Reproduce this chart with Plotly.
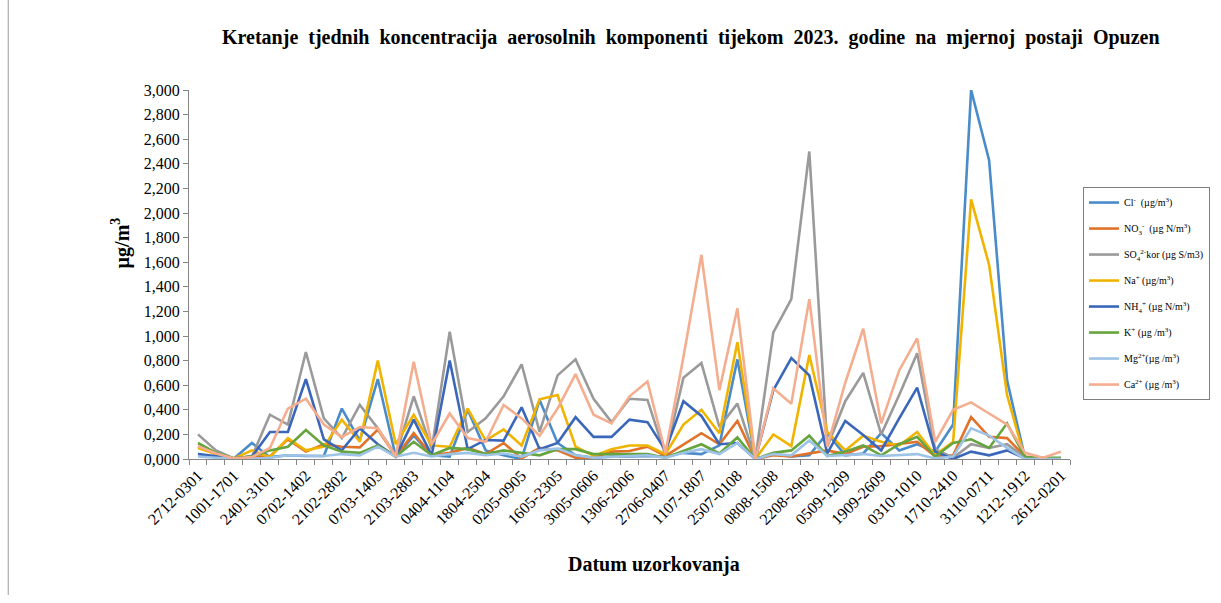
import plotly.graph_objects as go

# Weekly sampling periods (ddmm-ddmm), 2023, Opuzen station
weeks = [
    "2712-0301", "0301-1001", "1001-1701", "1701-2401", "2401-3101", "3101-0702",
    "0702-1402", "1402-2102", "2102-2802", "2802-0703", "0703-1403", "1403-2103",
    "2103-2803", "2803-0404", "0404-1104", "1104-1804", "1804-2504", "2504-0205",
    "0205-0905", "0905-1605", "1605-2305", "2305-3005", "3005-0606", "0606-1306",
    "1306-2006", "2006-2706", "2706-0407", "0407-1107", "1107-1807", "1807-2507",
    "2507-0108", "0108-0808", "0808-1508", "1508-2208", "2208-2908", "2908-0509",
    "0509-1209", "1209-1909", "1909-2609", "2609-0310", "0310-1010", "1010-1710",
    "1710-2410", "2410-3110", "3110-0711", "0711-1411", "1212-1912", "1912-2612",
    "2612-0201",
]

cl = [0.04, 0.015, 0.005, 0.13, 0.015, 0.03, 0.025, 0.025, 0.41, 0.15,
      0.65, 0.02, 0.19, 0.03, 0.02, 0.40, 0.07, 0.03, 0.0, 0.48,
      0.13, 0.03, 0.01, 0.02, 0.02, 0.025, 0.02, 0.05, 0.04, 0.11,
      0.81, 0.0, 0.04, 0.02, 0.03, 0.21, 0.03, 0.045, 0.21, 0.07,
      0.12, 0.06, 0.28, 3.0, 2.43, 0.64, 0.005, 0.0, 0.0]

no3 = [0.10, 0.04, 0.005, 0.02, 0.02, 0.16, 0.06, 0.12, 0.10, 0.095,
       0.24, 0.02, 0.21, 0.03, 0.05, 0.09, 0.04, 0.13, 0.005, 0.09,
       0.07, 0.01, 0.01, 0.06, 0.065, 0.10, 0.025, 0.12, 0.21, 0.12,
       0.31, 0.0, 0.03, 0.02, 0.045, 0.07, 0.04, 0.10, 0.105, 0.12,
       0.14, 0.02, 0.03, 0.34, 0.18, 0.17, 0.02, 0.0, 0.0]

so4 = [0.20, 0.07, 0.005, 0.02, 0.36, 0.28, 0.87, 0.33, 0.17, 0.44,
       0.25, 0.03, 0.51, 0.08, 1.035, 0.22, 0.33, 0.51, 0.77, 0.22,
       0.68, 0.81, 0.49, 0.30, 0.49, 0.48, 0.03, 0.66, 0.78, 0.26,
       0.45, 0.0, 1.03, 1.30, 2.50, 0.10, 0.47, 0.70, 0.20, 0.52,
       0.86, 0.08, 0.01, 0.12, 0.09, 0.12, 0.01, 0.005, 0.005]

na = [0.09, 0.04, 0.005, 0.07, 0.015, 0.17, 0.07, 0.10, 0.32, 0.14,
      0.80, 0.12, 0.36, 0.11, 0.10, 0.41, 0.15, 0.24, 0.11, 0.485,
      0.52, 0.10, 0.025, 0.08, 0.11, 0.11, 0.04, 0.28, 0.40, 0.21,
      0.95, 0.0, 0.20, 0.105, 0.845, 0.22, 0.07, 0.19, 0.14, 0.11,
      0.22, 0.03, 0.14, 2.11, 1.58, 0.52, 0.0, 0.0, 0.0]

nh4 = [0.04, 0.02, 0.005, 0.02, 0.22, 0.22, 0.65, 0.16, 0.07, 0.25,
       0.12, 0.02, 0.32, 0.03, 0.80, 0.08, 0.155, 0.15, 0.42, 0.08,
       0.13, 0.34, 0.18, 0.18, 0.32, 0.30, 0.07, 0.47, 0.35, 0.12,
       0.13, 0.0, 0.56, 0.82, 0.68, 0.045, 0.31, 0.195, 0.07, 0.33,
       0.58, 0.06, 0.0, 0.06, 0.03, 0.07, 0.005, 0.0, 0.0]

k = [0.13, 0.05, 0.005, 0.02, 0.07, 0.10, 0.235, 0.11, 0.06, 0.05,
     0.11, 0.02, 0.14, 0.03, 0.09, 0.08, 0.04, 0.07, 0.05, 0.03,
     0.08, 0.08, 0.04, 0.04, 0.04, 0.04, 0.01, 0.065, 0.12, 0.045,
     0.175, 0.0, 0.05, 0.07, 0.19, 0.025, 0.06, 0.11, 0.03, 0.12,
     0.18, 0.02, 0.13, 0.16, 0.09, 0.29, 0.015, 0.01, 0.01]

mg = [0.02, 0.01, 0.0, 0.0, 0.01, 0.03, 0.025, 0.025, 0.04, 0.03,
      0.10, 0.02, 0.05, 0.02, 0.04, 0.05, 0.03, 0.045, 0.02, 0.07,
      0.085, 0.03, 0.01, 0.02, 0.025, 0.03, 0.01, 0.05, 0.08, 0.04,
      0.13, 0.0, 0.04, 0.03, 0.15, 0.025, 0.03, 0.04, 0.025, 0.03,
      0.04, 0.005, 0.02, 0.25, 0.19, 0.09, 0.0, 0.0, 0.0]

ca = [0.105, 0.045, 0.005, 0.015, 0.09, 0.41, 0.49, 0.28, 0.18, 0.26,
      0.25, 0.02, 0.79, 0.12, 0.37, 0.17, 0.14, 0.44, 0.33, 0.19,
      0.41, 0.69, 0.36, 0.29, 0.51, 0.63, 0.05, 0.83, 1.66, 0.56,
      1.225, 0.0, 0.575, 0.45, 1.30, 0.10, 0.62, 1.06, 0.29, 0.72,
      0.98, 0.14, 0.40, 0.46, 0.37, 0.28, 0.05, 0.01, 0.06]

series = [
    ("Cl<sup>-</sup>  (µg/m<sup>3</sup>)", cl, "#4A8BC9"),
    ("NO<sub>3</sub><sup>-</sup>  (µg N/m<sup>3</sup>)", no3, "#E07329"),
    ("SO<sub>4</sub><sup>2-</sup>kor (µg S/m3)", so4, "#9A9A9A"),
    ("Na<sup>+</sup> (µg/m<sup>3</sup>)", na, "#F0B400"),
    ("NH<sub>4</sub><sup>+</sup> (µg N/m<sup>3</sup>)", nh4, "#3B67BA"),
    ("K<sup>+</sup> (µg /m<sup>3</sup>)", k, "#66A43E"),
    ("Mg<sup>2+</sup>(µg /m<sup>3</sup>)", mg, "#9DC3E6"),
    ("Ca<sup>2+</sup> (µg /m<sup>3</sup>)", ca, "#F4AE8F"),
]

FONT = "Liberation Serif"
xpos = list(range(len(weeks)))

fig = go.Figure()
for i, (name, vals, color) in enumerate(series):
    fig.add_trace(go.Scatter(
        x=xpos, y=vals, mode="lines", name=name,
        legendgroup=f"g{i}",
        line=dict(color=color, width=2.6),
    ))

fig.update_layout(
    width=1221, height=603,
    margin=dict(l=189, r=150, t=90, b=144),
    paper_bgcolor="white", plot_bgcolor="white",
    separators=",.",
    font=dict(family=FONT, color="black"),
    showlegend=True,
    legend=dict(
        x=1.0136, xanchor="left", y=0.737, yanchor="top",
        bordercolor="#7F7F7F", borderwidth=1,
        font=dict(family=FONT, size=10, color="black"),
        tracegroupgap=7,
    ),
    xaxis=dict(
        range=[-0.5, len(weeks) - 0.5],
        tickmode="array",
        tickvals=xpos[::2],
        ticktext=weeks[::2],
        tickangle=-45,
        ticks="",
        tickfont=dict(family=FONT, size=16, color="black"),
        showline=True, linecolor="#868686", linewidth=1,
        showgrid=False, zeroline=False,
        minor=dict(ticks="outside", tick0=-0.5, dtick=1, ticklen=5,
                   tickcolor="#868686", showgrid=False),
    ),
    yaxis=dict(
        range=[0, 3.0],
        tickmode="linear", tick0=0, dtick=0.2,
        tickformat=".3f",
        ticks="outside", ticklen=5, tickcolor="#868686",
        tickfont=dict(family=FONT, size=16, color="black"),
        showline=True, linecolor="#868686", linewidth=1,
        showgrid=False, zeroline=False,
    ),
)

title_words = ("Kretanje tjednih koncentracija aerosolnih komponenti tijekom "
               "2023. godine na mjernoj postaji Opuzen").split(" ")
fig.add_annotation(
    text="<b>" + " \u00a0".join(title_words) + "</b>",
    xref="paper", yref="paper", x=0.570, y=1.141,
    xanchor="center", yanchor="middle", showarrow=False,
    font=dict(family=FONT, size=20, color="black"),
)
fig.add_annotation(
    text="<b>Datum uzorkovanja</b>",
    xref="paper", yref="paper", x=0.528, y=-0.287,
    xanchor="center", yanchor="middle", showarrow=False,
    font=dict(family=FONT, size=20, color="black"),
)
fig.add_annotation(
    text="<b>µg/m<sup>3</sup></b>",
    xref="paper", yref="paper", x=-0.078, y=0.585,
    xanchor="center", yanchor="middle", showarrow=False, textangle=-90,
    font=dict(family=FONT, size=20, color="black"),
)
# thin frame line at the left page edge
fig.add_shape(
    type="line", xref="paper", yref="paper",
    x0=-0.2052, x1=-0.2052, y0=-0.3686, y1=1.2439,
    line=dict(color="#9A9A9A", width=1),
)

fig.write_html("out.html")
